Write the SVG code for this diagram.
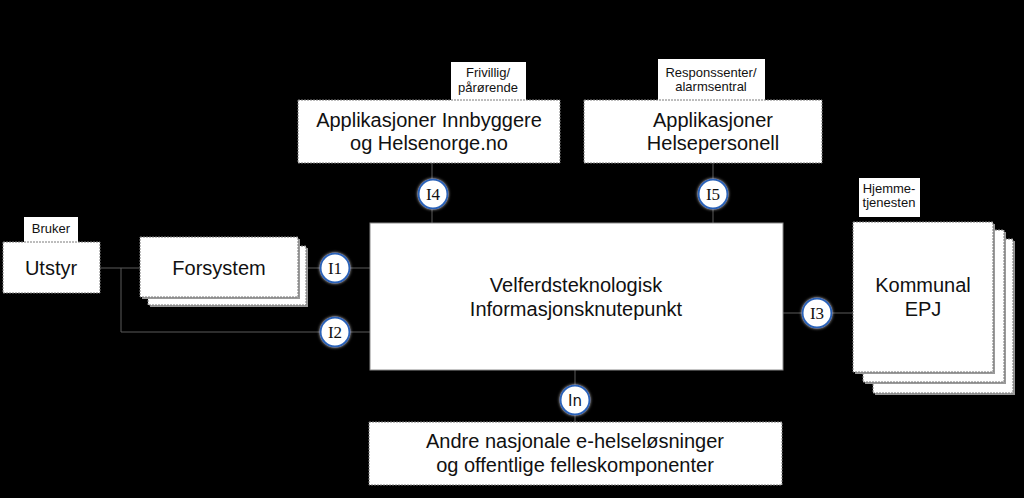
<svg xmlns="http://www.w3.org/2000/svg" width="1024" height="498" viewBox="0 0 1024 498">
<defs>
<style>
.box{fill:#fff;stroke:#7a7a7a;stroke-width:1;stroke-dasharray:2 1}
.lbl{fill:#fff}
.main{fill:#fff;stroke:#8a8a8a;stroke-width:1}
.big{font-family:"Liberation Sans",Arial,sans-serif;font-size:20px;fill:#111;text-anchor:middle}
.small{font-family:"Liberation Sans",Arial,sans-serif;font-size:13px;fill:#111;text-anchor:middle}
.con{stroke:#5a5a5a;stroke-width:1;fill:none}
.ic{fill:#fff;stroke:#2a62b8;stroke-width:2;filter:url(#glow)}
.it{font-family:"Liberation Serif","Times New Roman",serif;font-size:17px;fill:#111;text-anchor:middle}
.shadow{fill:#9a9a9a}
</style>
<filter id="glow" x="-50%" y="-50%" width="200%" height="200%">
<feGaussianBlur in="SourceAlpha" stdDeviation="1.8" result="b"/>
<feFlood flood-color="#ffffff" flood-opacity="0.7"/>
<feComposite in2="b" operator="in" result="g"/>
<feMerge><feMergeNode in="g"/><feMergeNode in="SourceGraphic"/></feMerge>
</filter>
</defs>
<rect width="1024" height="498" fill="#000"/>

<g id="connectors">
<line class="con" x1="100" y1="268" x2="140" y2="268"/>
<polyline class="con" points="121,268 121,332 370,332"/>
<line class="con" x1="298" y1="268" x2="370" y2="268"/>
<line class="con" x1="432" y1="163" x2="432" y2="223"/>
<line class="con" x1="713" y1="163" x2="713" y2="223"/>
<line class="con" x1="783" y1="313" x2="853" y2="313"/>
<line class="con" x1="575" y1="370" x2="575" y2="422" stroke="#4a2a2a"/>
</g>

<g id="main">
<rect class="main" x="370" y="223" width="413" height="147"/>
<text class="big" x="576" y="292">Velferdsteknologisk</text>
<text class="big" x="576" y="316">Informasjonsknutepunkt</text>
</g>

<g id="utstyr">
<rect class="lbl" x="24" y="217" width="54" height="25"/>
<text class="small" x="51" y="233">Bruker</text>
<rect class="box" x="3" y="242" width="97" height="51"/>
<text class="big" x="51" y="275">Utstyr</text>
</g>

<g id="forsystem">
<rect class="shadow" x="150" y="248" width="158" height="59"/>
<rect class="box" x="148" y="246" width="158" height="59"/>
<rect class="shadow" x="142" y="239" width="158" height="60"/>
<rect class="box" x="140" y="237" width="158" height="60"/>
<text class="big" x="219" y="275">Forsystem</text>
</g>

<g id="innbyggere">
<rect class="lbl" x="451" y="62" width="75" height="38"/>
<text class="small" x="488" y="77">Frivillig/</text>
<text class="small" x="488" y="92">pårørende</text>
<rect class="box" x="298" y="100" width="262" height="63"/>
<text class="big" x="429" y="127">Applikasjoner Innbyggere</text>
<text class="big" x="429" y="150">og Helsenorge.no</text>
</g>

<g id="helsepersonell">
<rect class="lbl" x="658" y="59" width="107" height="41"/>
<text class="small" x="711" y="77">Responssenter/</text>
<text class="small" x="711" y="91">alarmsentral</text>
<rect class="box" x="584" y="100" width="238" height="63"/>
<text class="big" x="713" y="127">Applikasjoner</text>
<text class="big" x="713" y="150">Helsepersonell</text>
</g>

<g id="epj">
<rect class="lbl" x="859" y="178" width="61" height="39"/>
<text class="small" x="889" y="193">Hjemme-</text>
<text class="small" x="889" y="207">tjenesten</text>
<rect class="shadow" x="875" y="241" width="140" height="154"/>
<rect class="box" x="873" y="239" width="140" height="154"/>
<rect class="shadow" x="865" y="232" width="141" height="152"/>
<rect class="box" x="863" y="230" width="141" height="152"/>
<rect class="shadow" x="855" y="224" width="140" height="150"/>
<rect class="box" x="853" y="222" width="140" height="150"/>
<text class="big" x="923" y="292">Kommunal</text>
<text class="big" x="923" y="316">EPJ</text>
</g>

<g id="andre">
<rect class="box" x="369" y="422" width="413" height="63"/>
<text class="big" x="575" y="448">Andre nasjonale e-helseløsninger</text>
<text class="big" x="575" y="472">og offentlige felleskomponenter</text>
</g>

<g id="i1"><circle class="ic" cx="335" cy="268" r="14.5"/><text class="it" x="335" y="274">I1</text></g>
<g id="i2"><circle class="ic" cx="335" cy="332" r="14.5"/><text class="it" x="335" y="338">I2</text></g>
<g id="i3"><circle class="ic" cx="817" cy="313" r="14.5"/><text class="it" x="817" y="319">I3</text></g>
<g id="i4"><circle class="ic" cx="433" cy="194" r="14.5"/><text class="it" x="433" y="200">I4</text></g>
<g id="i5"><circle class="ic" cx="713" cy="194" r="14.5"/><text class="it" x="713" y="200">I5</text></g>
<g id="in"><circle class="ic" cx="575" cy="400" r="14.5"/><text class="it" x="575" y="406" style="font-family:'DejaVu Sans',sans-serif;font-size:15px">In</text></g>
</svg>
